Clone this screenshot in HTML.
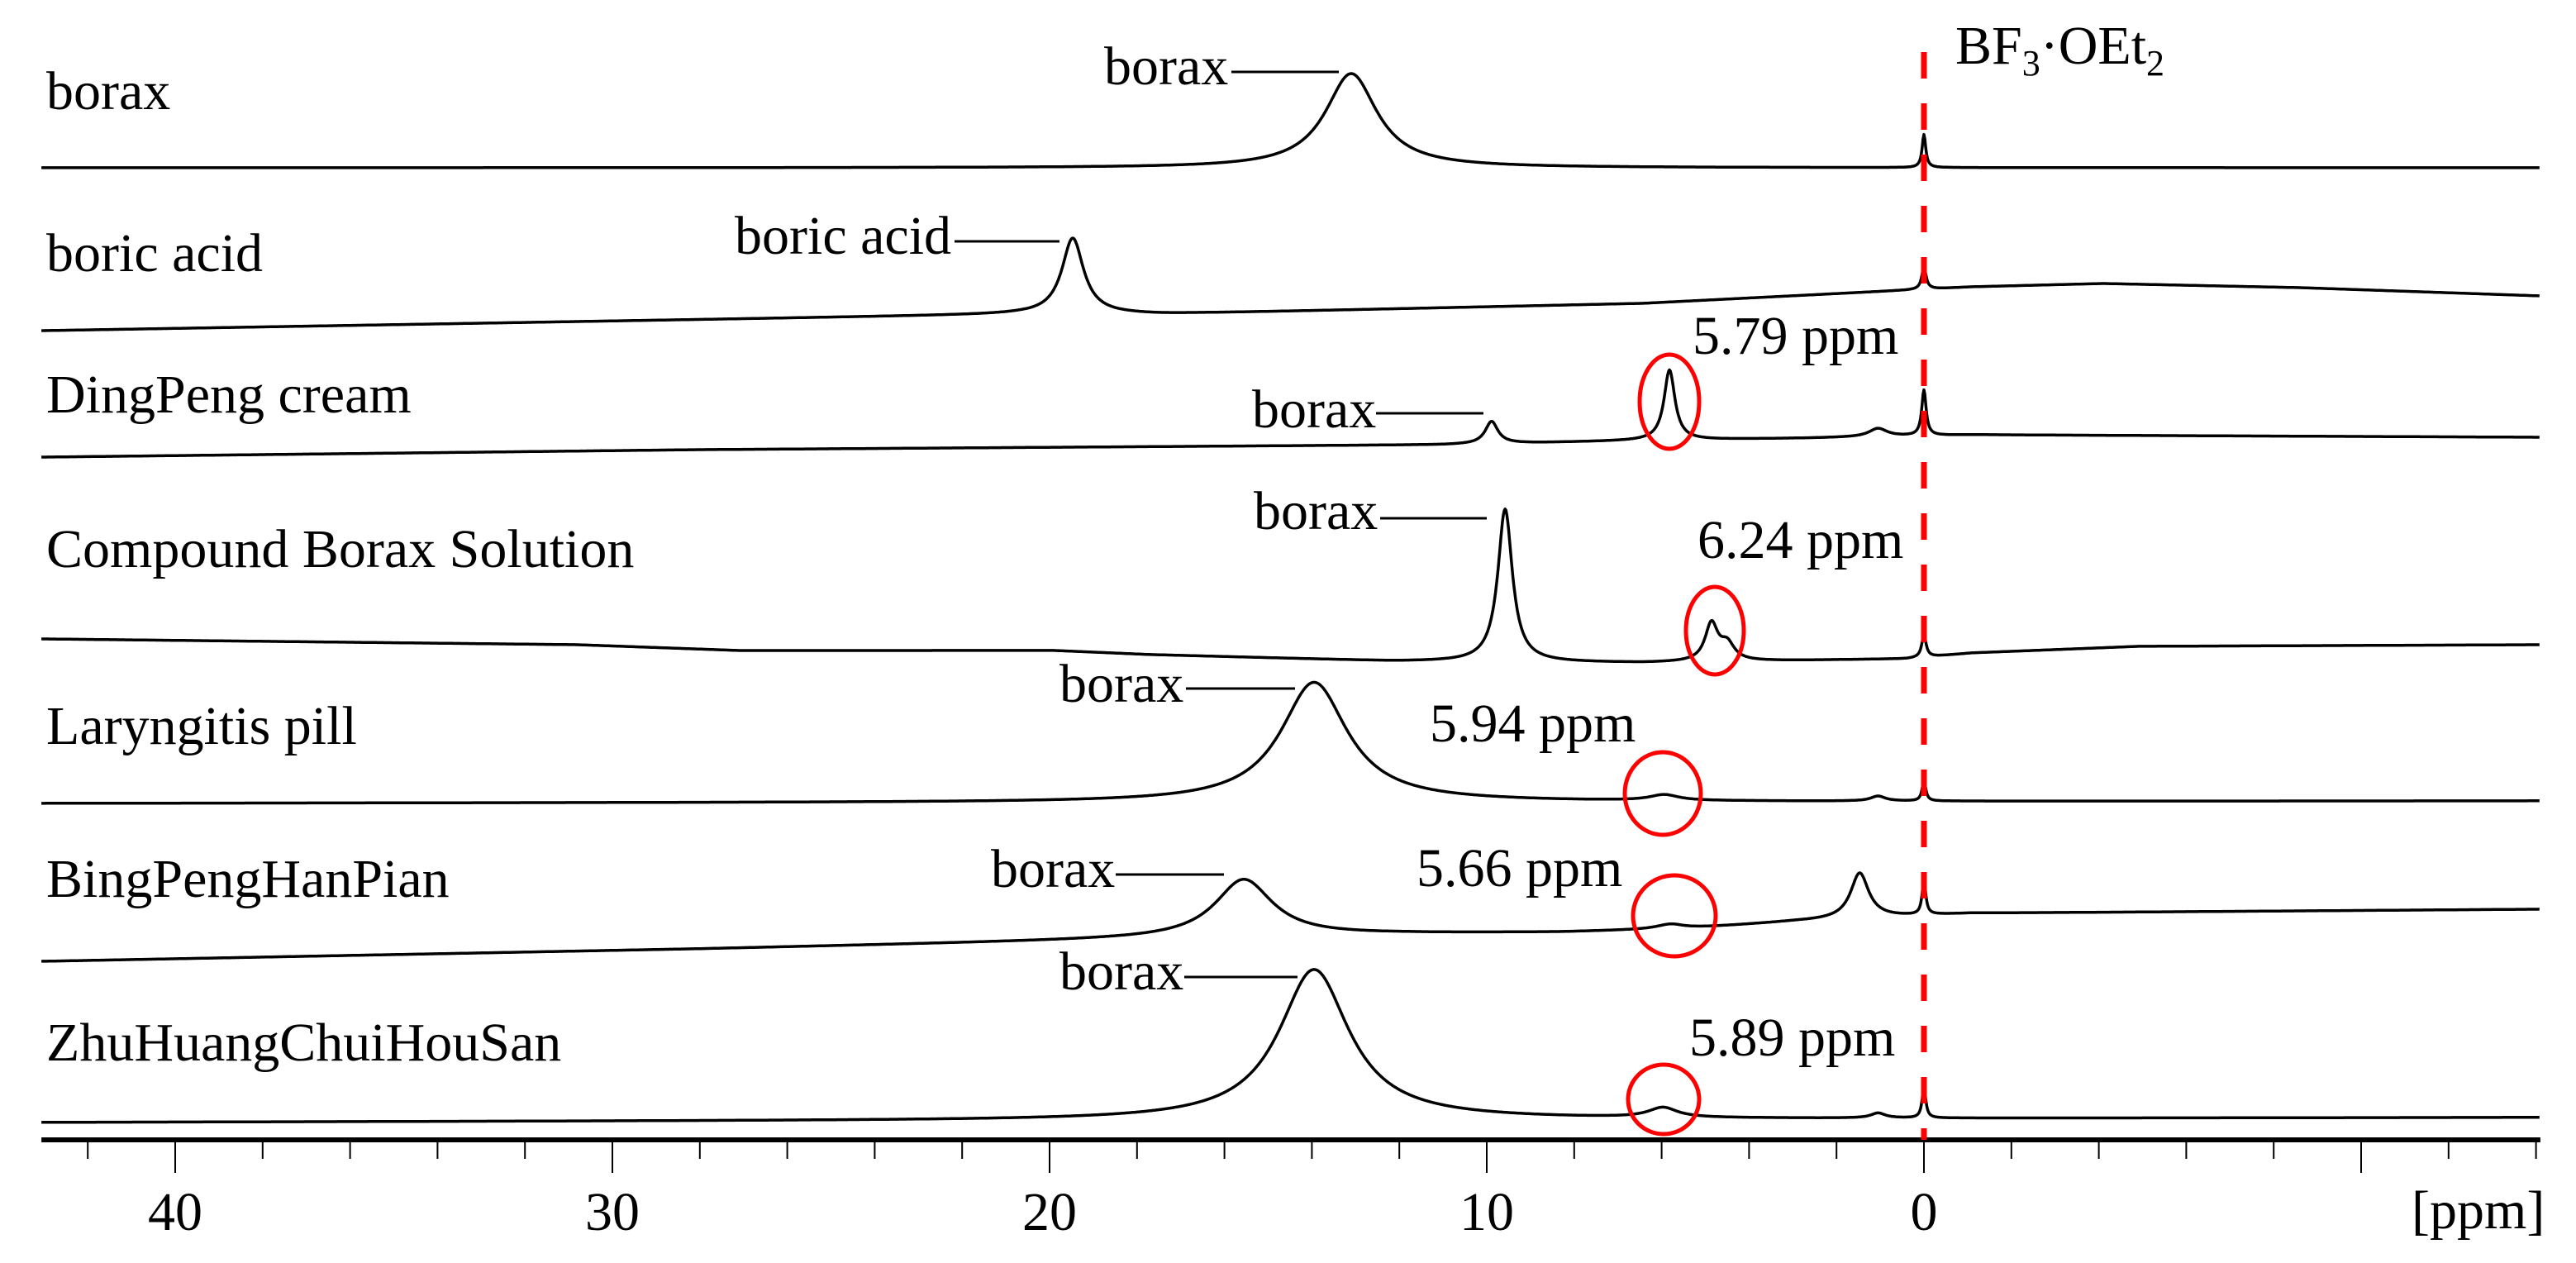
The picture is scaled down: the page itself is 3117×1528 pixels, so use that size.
<!DOCTYPE html>
<html><head><meta charset="utf-8"><style>
html,body{margin:0;padding:0;background:#fff;}
svg{display:block;}
text{font-family:"Liberation Serif","Times New Roman",serif;fill:#000;}
</style></head><body>
<svg id="chart" width="3117" height="1528" viewBox="0 0 3117 1528" xmlns="http://www.w3.org/2000/svg">
<g id="traces"></g>
<g id="axis"></g>
<g id="annot"></g>
</svg>
<script>
// ---- data ----
const sampleNames = ["borax","boric acid","DingPeng cream","Compound Borax Solution","Laryngitis pill","BingPengHanPian","ZhuHuangChuiHouSan"];
const baselinePpm = [
 [43,-14.1],
 [43,20.7,17.5,6.43,0.79,-1.1,-4.1,-8.6,-14.1],
 [43,28,11,6.4,2.6,-1.1,-14.1],
 [43,30.8,27.1,19.9,17.7,12.1,6.4,0.4,-1.1,-4.9,-14.1],
 [43,-14.1],
 [43,28,18.6,12,8.3,5.5,3,-1.1,-14.1],
 [43,-14.1]
];
const baselineVal = [
 [1197,1197],
 [1000,1020,1020,1033,1048,1053,1057,1052,1042],
 [847,856,862,867,870,874,871],
 [627,620,613,613,608,600,598,603,610,618,620],
 [428,431],
 [237,252,263,270,272,276,285,295,300],
 [42,48]
];
const peakPpm = [
 [13.1,0],
 [19.47,0],
 [9.89,5.82,1.05,0],
 [9.58,4.86,4.5,0],
 [13.95,5.94,1.05,0],
 [15.56,5.79,1.47,0],
 [13.95,5.97,1.05,0]
];
const peakHeight = [
 [114,40],
 [92,27],
 [27,85,10,55],
 [185,45,20,27],
 [145,7,6,25],
 [70,6,55,42],
 [182,12,6,38]
];
const peakWidth = [
 [1.44,0.1],
 [0.6,0.12],
 [0.35,0.3,0.5,0.12],
 [0.4,0.35,0.4,0.12],
 [1.85,0.8,0.4,0.1],
 [1.6,0.8,0.5,0.1],
 [1.95,0.8,0.4,0.1]
];
const majorTicks = [40,30,20,10,0,-10];
const tickLabels = ["40","30","20","10","0",""];

// ---- axes ----
const X0 = 2328, PXPERPPM = 52.9;
function xScale(p){ return X0 - p*PXPERPPM; }
function yScale(v){ return 1400 - v; }
const PPM_L = 43.06, PPM_R = -14.1;
const NS = "http://www.w3.org/2000/svg";
function mk(tag, attrs, parent){
  const e = document.createElementNS(NS, tag);
  for (const k in attrs) e.setAttribute(k, attrs[k]);
  parent.appendChild(e); return e;
}
function baseAt(i, p){
  const bp = baselinePpm[i], bv = baselineVal[i];
  if (p >= bp[0]) return bv[0];
  for (let k=0;k<bp.length-1;k++){
    if (p <= bp[k] && p >= bp[k+1]){
      const t = (bp[k]-p)/(bp[k]-bp[k+1]);
      return bv[k] + t*(bv[k+1]-bv[k]);
    }
  }
  return bv[bv.length-1];
}
const traces = document.getElementById('traces');
for (let i=0;i<sampleNames.length;i++){
  let d = "";
  for (let p=PPM_L; p>=PPM_R; p-=0.02){
    let v = baseAt(i,p);
    for (let k=0;k<peakPpm[i].length;k++){
      const u = 2*(p-peakPpm[i][k])/peakWidth[i][k];
      v += peakHeight[i][k]/(1+u*u);
    }
    d += (d? "L":"M") + xScale(p).toFixed(1) + "," + yScale(v).toFixed(1);
  }
  const path = mk('path', {d:d, fill:'none', stroke:'#000', 'stroke-width':3.5, 'stroke-linejoin':'round'}, traces);
  
  
}

// axis
const axis = document.getElementById('axis');
const al = mk('line', {x1:xScale(PPM_L), x2:xScale(PPM_R), y1:1379, y2:1379, stroke:'#000','stroke-width':6}, axis);


for (let p=42; p>=-14; p-=2){
  const t = mk('line', {x1:xScale(p), x2:xScale(p), y1:1379, y2:1402, stroke:'#000','stroke-width':2}, axis);
  
  
}
for (let k=0;k<majorTicks.length;k++){
  const x = xScale(majorTicks[k]);
  const t = mk('line', {x1:x, x2:x, y1:1379, y2:1419, stroke:'#000','stroke-width':2}, axis);
  
  
  if (tickLabels[k]){
    const tx = mk('text', {x:x, y:1488, 'font-size':66, 'text-anchor':'middle'}, axis);
    tx.textContent = tickLabels[k];
    
    
  }
}
const unit = mk('text', {x:2918, y:1486, 'font-size':66}, axis);
unit.textContent = "[ppm]";



// reference line
const annot = document.getElementById('annot');
const rl = mk('line', {x1:xScale(0), x2:xScale(0), y1:63, y2:1379, stroke:'#f00','stroke-width':7,'stroke-dasharray':'32 30'}, annot);


</script>
<svg style="position:absolute;left:0;top:0" width="3117" height="1528">
<g font-size="66" style="font-family:'Liberation Serif',serif">
<text x="56" y="132">borax</text>
<text x="56" y="328">boric acid</text>
<text x="56" y="499">DingPeng cream</text>
<text x="56" y="686">Compound Borax Solution</text>
<text x="56" y="900">Laryngitis pill</text>
<text x="56" y="1085">BingPengHanPian</text>
<text x="56" y="1283">ZhuHuangChuiHouSan</text>

<text x="1336" y="102">borax</text>
<line x1="1490" x2="1620" y1="87" y2="87" stroke="#000" stroke-width="3"/>
<text x="889" y="307">boric acid</text>
<line x1="1155" x2="1282" y1="292" y2="292" stroke="#000" stroke-width="3"/>
<text x="1515" y="517">borax</text>
<line x1="1665" x2="1795" y1="500" y2="500" stroke="#000" stroke-width="3"/>
<text x="1517" y="640">borax</text>
<line x1="1670" x2="1799" y1="627" y2="627" stroke="#000" stroke-width="3"/>
<text x="1282" y="849">borax</text>
<line x1="1435" x2="1567" y1="833" y2="833" stroke="#000" stroke-width="3"/>
<text x="1199" y="1073">borax</text>
<line x1="1350" x2="1481" y1="1058" y2="1058" stroke="#000" stroke-width="3"/>
<text x="1282" y="1197">borax</text>
<line x1="1433" x2="1570" y1="1182" y2="1182" stroke="#000" stroke-width="3"/>

<text x="2048" y="428">5.79 ppm</text>
<text x="2054" y="675">6.24 ppm</text>
<text x="1730" y="897">5.94 ppm</text>
<text x="1714" y="1072">5.66 ppm</text>
<text x="2044" y="1277">5.89 ppm</text>

<text x="2366" y="77">BF<tspan font-size="44" dy="14">3</tspan><tspan dy="-14">·OEt</tspan><tspan font-size="44" dy="14">2</tspan></text>
</g>
<g fill="none" stroke="#f00" stroke-width="5">
<ellipse cx="2020" cy="486" rx="36" ry="57"/>
<ellipse cx="2075" cy="763" rx="35" ry="53"/>
<ellipse cx="2012" cy="960" rx="46" ry="50"/>
<ellipse cx="2026" cy="1108" rx="50" ry="49"/>
<ellipse cx="2013" cy="1330" rx="43" ry="42"/>
</g>
</svg>
</body></html>
